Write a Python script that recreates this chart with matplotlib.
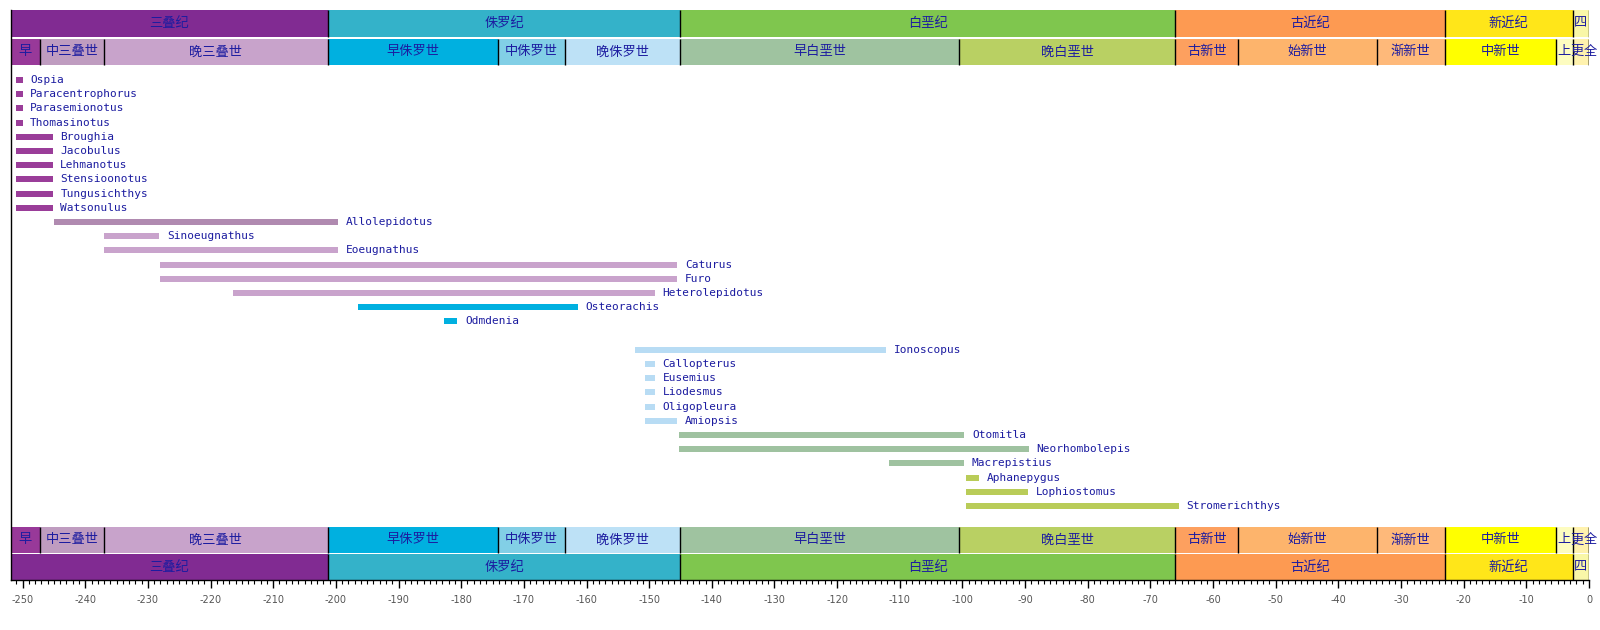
import matplotlib
matplotlib.use("Agg")
import matplotlib.pyplot as plt
from matplotlib.patches import Rectangle
from matplotlib.ticker import MultipleLocator

# genus ranges (Ma, negative = before present)
genera = ["Ospia", "Paracentrophorus", "Parasemionotus", "Thomasinotus",
          "Broughia", "Jacobulus", "Lehmanotus", "Stensioonotus",
          "Tungusichthys", "Watsonulus", "Allolepidotus", "Sinoeugnathus",
          "Eoeugnathus", "Caturus", "Furo", "Heterolepidotus", "Osteorachis",
          "Odmdenia", "Ionoscopus", "Callopterus", "Eusemius", "Liodesmus",
          "Oligopleura", "Amiopsis", "Otomitla", "Neorhombolepis",
          "Macrepistius", "Aphanepygus", "Lophiostomus", "Stromerichthys"]
rows = list(range(18)) + list(range(19, 31))
starts = [-251.0, -251.0, -251.0, -251.0,
          -251.0, -251.0, -251.0, -251.0,
          -251.0, -251.0, -245.0, -237.0,
          -237.0, -228.1, -228.1, -216.4, -196.5,
          -182.8, -152.3, -150.6, -150.6, -150.6,
          -150.6, -150.6, -145.3, -145.3,
          -111.8, -99.4, -99.4, -99.4]
ends = [-250.0, -250.0, -250.0, -250.0,
        -245.2, -245.2, -245.2, -245.2,
        -245.2, -245.2, -199.6, -228.2,
        -199.6, -145.5, -145.5, -149.1, -161.4,
        -180.6, -112.2, -149.1, -149.1, -149.1,
        -149.1, -145.6, -99.7, -89.4,
        -99.7, -97.3, -89.5, -65.5]
bar_colors = ["#9a3d99"] * 10 + ["#b08ab0", "#c9a3cc", "#c9a3cc", "#c9a3cc",
              "#c9a3cc", "#c9a3cc", "#00b0e0", "#00b0e0"] + \
             ["#b8dcf4"] * 6 + ["#9fc2a0"] * 3 + ["#b9cc58"] * 3

# geologic time scale
periods = ["三叠纪", "侏罗纪", "白垩纪", "古近纪", "新近纪", "四"]
period_start = [-251.9, -201.3, -145.0, -66.0, -23.03, -2.58]
period_end = [-201.3, -145.0, -66.0, -23.03, -2.58, 0.0]
period_colors = ["#812b92", "#34b2c9", "#7fc64e", "#fd9a52", "#ffe619", "#f9f7a8"]

epochs = ["早", "中三叠世", "晚三叠世", "早侏罗世", "中侏罗世", "晚侏罗世",
          "早白垩世", "晚白垩世", "古新世", "始新世", "渐新世", "中新世",
          "上", "更", "全"]
epoch_start = [-251.9, -247.2, -237.0, -201.3, -174.1, -163.5,
               -145.0, -100.5, -66.0, -56.0, -33.9, -23.03,
               -5.333, -2.58, -0.0117]
epoch_end = [-247.2, -237.0, -201.3, -174.1, -163.5, -145.0,
             -100.5, -66.0, -56.0, -33.9, -23.03, -5.333,
             -2.58, -0.0117, 0.0]
epoch_colors = ["#983999", "#bf9cc0", "#c8a3cb", "#00b0e0", "#82cfe6", "#bde1f6",
                "#9fc3a0", "#b9d063", "#fda05f", "#fdb46c", "#feb97a", "#ffff00",
                "#fdfcc0", "#fff2ae", "#fef2e0"]
# the last two epoch labels sit side by side instead of on top of each other
epoch_align = ["center"] * 13 + ["right", "left"]
epoch_anchor = [None] * 13 + [-0.9, -0.9]

txt_color = "#1c1ca0"

fig = plt.figure(figsize=(16, 6.3), dpi=100)
ax = fig.add_axes([10.7 / 1600, 50 / 630, (1589 - 10.7) / 1600, 570 / 630])
ax.set_xlim(-251.9, 0)
ax.set_ylim(35.21, -4.93)

trans = ax.get_xaxis_transform()


def draw_band(names, s, e, cols, y0, y1, align=None, anchor=None):
    for i, (name, a, b, c) in enumerate(zip(names, s, e, cols)):
        ax.add_patch(Rectangle((a, y0), b - a, y1 - y0, transform=trans,
                               facecolor=c, edgecolor="none", zorder=1))
        ha = align[i] if align else "center"
        x = anchor[i] if anchor and anchor[i] is not None else (a + b) / 2
        ax.text(x, (y0 + y1) / 2, name, transform=trans,
                ha=ha, va="center", fontsize=9.5, color=txt_color,
                family=["Noto Sans CJK SC", "DejaVu Sans"], zorder=3,
                clip_on=False)
    ax.vlines(s[1:] + [e[-1]], y0, y1, transform=trans, colors="black",
              linewidth=1, zorder=2)


# header bands (axes fraction in y)
draw_band(periods, period_start, period_end, period_colors, 0.9535, 1.0)
draw_band(epochs, epoch_start, epoch_end, epoch_colors, 0.9035, 0.950,
          epoch_align, epoch_anchor)
draw_band(epochs, epoch_start, epoch_end, epoch_colors, 0.0474, 0.093,
          epoch_align, epoch_anchor)
draw_band(periods, period_start, period_end, period_colors, 0.0, 0.0456)

# genus bars
ax.barh(rows, [b - a for a, b in zip(starts, ends)], left=starts, height=0.42,
        color=bar_colors, edgecolor="none", zorder=2)
for name, r, b in zip(genera, rows, ends):
    ax.annotate(name, (b, r), xytext=(5.5, 0), textcoords="offset points",
                ha="left", va="center", fontsize=8, color=txt_color,
                family="DejaVu Sans Mono")

ax.spines["top"].set_visible(False)
ax.spines["right"].set_visible(False)
ax.spines["left"].set_linewidth(1)
ax.spines["bottom"].set_linewidth(1)
ax.set_yticks([])
ax.xaxis.set_minor_locator(MultipleLocator(1))
ax.set_xticks(range(-250, 1, 10))
ax.set_xticklabels([str(v) for v in range(-250, 1, 10)])
ax.tick_params(axis="x", which="major", length=6, width=1, labelsize=7,
               labelcolor="#555555", pad=5)
ax.tick_params(axis="x", which="minor", length=3, width=0.8)

fig.savefig("out.png", dpi=100, facecolor="white")
